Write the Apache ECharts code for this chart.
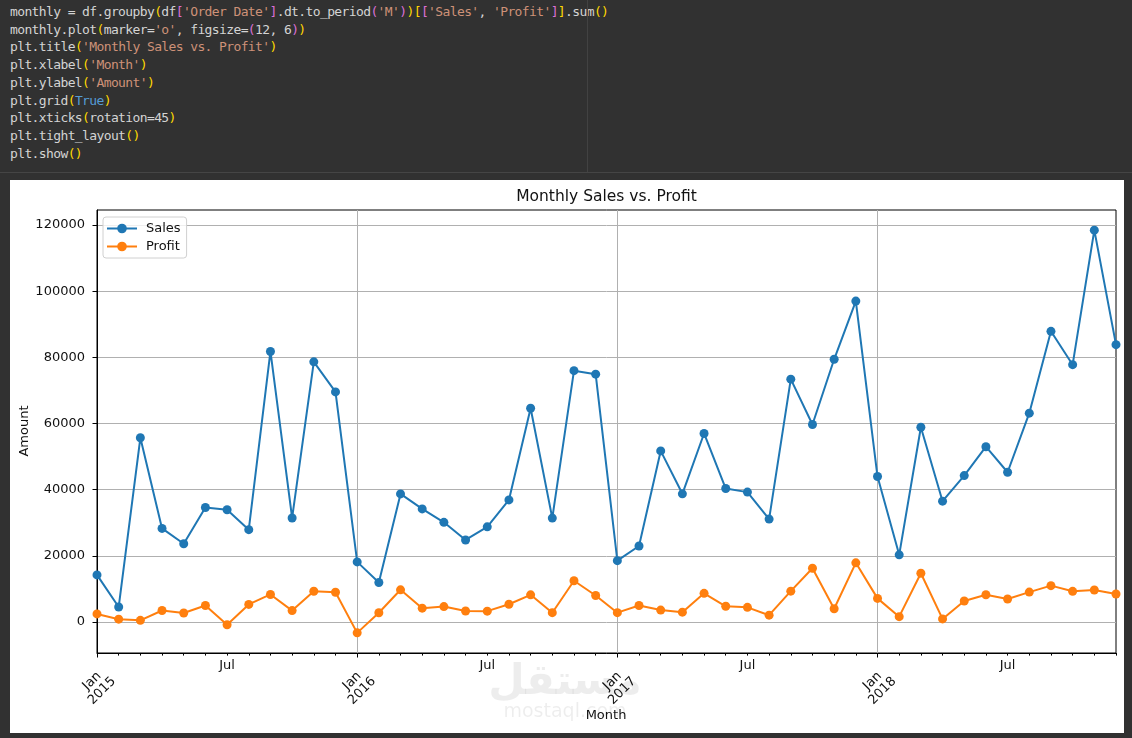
<!DOCTYPE html>
<html>
<head>
<meta charset="utf-8">
<script src="https://cdn.jsdelivr.net/npm/echarts@6/dist/echarts.min.js"></script>
<style>
  html, body { margin: 0; padding: 0; background: #313131; width: 1132px; height: 738px; overflow: hidden; }
  #code { position: absolute; left: 10px; top: 3px; margin: 0; font-family: 'DejaVu Sans Mono', 'Liberation Mono', monospace; font-size: 13px; letter-spacing: -0.62px; line-height: 17.7px; color: #d4d4d4; white-space: pre; }
  .s { color: #ce9178; } .g { color: #ffd700; } .p { color: #da70d6; } .k { color: #569cd6; }
  #sep { position: absolute; left: 0; top: 172px; width: 1132px; height: 1px; background: #454545; }
  #ruler { position: absolute; left: 587px; top: 0; width: 1px; height: 172px; background: #424242; }
  #chart { position: absolute; left: 10px; top: 180px; width: 1114px; height: 553px; background: #ffffff; }
</style>
</head>
<body>
<pre id="code">monthly = df.groupby<span class="g">(</span>df<span class="p">[</span><span class="s">'Order Date'</span><span class="p">]</span>.dt.to_period<span class="p">(</span><span class="s">'M'</span><span class="p">)</span><span class="g">)</span><span class="g">[</span><span class="p">[</span><span class="s">'Sales'</span>, <span class="s">'Profit'</span><span class="p">]</span><span class="g">]</span>.sum<span class="g">()</span>
monthly.plot<span class="g">(</span>marker=<span class="s">'o'</span>, figsize=<span class="p">(</span>12, 6<span class="p">)</span><span class="g">)</span>
plt.title<span class="g">(</span><span class="s">'Monthly Sales vs. Profit'</span><span class="g">)</span>
plt.xlabel<span class="g">(</span><span class="s">'Month'</span><span class="g">)</span>
plt.ylabel<span class="g">(</span><span class="s">'Amount'</span><span class="g">)</span>
plt.grid<span class="g">(</span><span class="k">True</span><span class="g">)</span>
plt.xticks<span class="g">(</span>rotation=45<span class="g">)</span>
plt.tight_layout<span class="g">()</span>
plt.show<span class="g">()</span></pre>
<div id="ruler"></div>
<div id="sep"></div>
<div id="chart"></div>
<script>
const years = [2015, 2016, 2017, 2018];
const monthNums = ['01','02','03','04','05','06','07','08','09','10','11','12'];
const months = [];
years.forEach(y => monthNums.forEach(m => months.push(y + '-' + m)));

const sales = [
  14237, 4520, 55691, 28295, 23648, 34595, 33946, 27910, 81777, 31453, 78629, 69546,
  18174, 11951, 38726, 34195, 30132, 24797, 28765, 36898, 64596, 31405, 75973, 74920,
  18543, 22979, 51716, 38750, 56988, 40345, 39262, 31115, 73410, 59688, 79412, 96999,
  43971, 20301, 58872, 36522, 44261, 52982, 45264, 63121, 87867, 77777, 118448, 83829
];
const profit = [
  2450, 862, 499, 3489, 2739, 4977, -841, 5318, 8328, 3448, 9292, 8984,
  -3281, 2814, 9732, 4188, 4668, 3336, 3289, 5356, 8209, 2817, 12475, 8017,
  2825, 5005, 3612, 2978, 8662, 4750, 4433, 2062, 9329, 16243, 4011, 17885,
  7140, 1614, 14752, 933, 6343, 8223, 6953, 9041, 10992, 9275, 9690, 8483
];
const yTicks = [0, 20000, 40000, 60000, 80000, 100000, 120000];
const majorLabel = 'Jan';
const minorLabel = 'Jul';

const font = "'DejaVu Sans', sans-serif";
const chart = echarts.init(document.getElementById('chart'), null, { renderer: 'canvas' });

const option = {
  animation: false,
  backgroundColor: '#ffffff',
  grid: {
    left: 87, right: 8, top: 30, bottom: 80,
    show: true, borderColor: '#000000', borderWidth: 1,
    outerBoundsMode: 'none', containLabel: false
  },
  graphic: [
    { type: 'text', x: 596.5, y: 17, z: 10,
      style: { text: 'Monthly Sales vs. Profit', font: "15.5px 'DejaVu Sans', sans-serif", fill: '#111111', align: 'center', verticalAlign: 'middle' } },
    { type: 'text', x: 596, y: 536, z: 10,
      style: { text: 'Month', font: "13px 'DejaVu Sans', sans-serif", fill: '#111111', align: 'center', verticalAlign: 'middle' } },
    { type: 'text', x: 15, y: 251, rotation: Math.PI / 2, z: 10,
      style: { text: 'Amount', font: "13px 'DejaVu Sans', sans-serif", fill: '#111111', align: 'center', verticalAlign: 'middle' } },
    { type: 'text', x: 555, y: 503, z: 0,
      style: { text: 'مستقل', font: "bold 42px 'DejaVu Sans', sans-serif", fill: 'rgba(0,0,0,0.07)', align: 'center', verticalAlign: 'middle' } },
    { type: 'text', x: 555, y: 532, z: 0,
      style: { text: 'mostaql.com', font: "19px 'DejaVu Sans', sans-serif", fill: 'rgba(0,0,0,0.07)', align: 'center', verticalAlign: 'middle' } }
  ],
  legend: {
    left: 93, top: 37, orient: 'vertical',
    padding: [5, 6, 5, 3], itemGap: 5, itemWidth: 30, itemHeight: 12,
    borderColor: '#d0d0d0', borderWidth: 1, borderRadius: 3,
    backgroundColor: 'rgba(255,255,255,0.8)',
    textStyle: { fontFamily: font, fontSize: 13, color: '#111111', padding: [0, 0, 0, 4] },
    data: ['Sales', 'Profit']
  },
  xAxis: [
    {
      type: 'category', data: months, boundaryGap: false, position: 'bottom',
      axisLine: { show: true, onZero: false, lineStyle: { color: '#000000', width: 1 } },
      axisTick: { show: true, length: 4.5, interval: (i) => i % 12 === 0, lineStyle: { color: '#000000', width: 1 } },
      axisLabel: {
        interval: (i) => i % 12 === 0, rotate: 45, margin: 33,
        align: 'center', verticalAlign: 'middle',
        fontFamily: font, fontSize: 13, color: '#111111', lineHeight: 14,
        formatter: (v) => majorLabel + '\n' + v.slice(0, 4)
      },
      splitLine: { show: true, interval: (i) => i % 12 === 0, lineStyle: { color: '#b0b0b0', width: 1 } }
    },
    {
      type: 'category', data: months, boundaryGap: false, position: 'bottom',
      axisLine: { show: false, onZero: false },
      axisTick: { show: true, length: 2.6, interval: 0, lineStyle: { color: '#000000', width: 1 } },
      axisLabel: {
        interval: (i) => i % 12 === 6, margin: 6,
        fontFamily: font, fontSize: 13, color: '#111111',
        formatter: () => minorLabel
      },
      splitLine: { show: false }
    }
  ],
  yAxis: {
    type: 'value', min: -9367, max: 124534,
    axisLine: { show: true, lineStyle: { color: '#000000', width: 1 } },
    axisTick: { show: true, length: 4.5, customValues: yTicks, lineStyle: { color: '#000000', width: 1 } },
    axisLabel: { customValues: yTicks, margin: 12, fontFamily: font, fontSize: 13, color: '#111111',
      formatter: (v) => String(v) },
    splitLine: { show: true, lineStyle: { color: '#b0b0b0', width: 1 } }
  },
  series: [
    {
      name: 'Sales', type: 'line', data: sales, xAxisIndex: 0,
      symbol: 'circle', symbolSize: 9, showSymbol: true,
      itemStyle: { color: '#1f77b4' },
      lineStyle: { color: '#1f77b4', width: 2 },
      emphasis: { disabled: true }, z: 3
    },
    {
      name: 'Profit', type: 'line', data: profit, xAxisIndex: 0,
      symbol: 'circle', symbolSize: 9, showSymbol: true,
      itemStyle: { color: '#ff7f0e' },
      lineStyle: { color: '#ff7f0e', width: 2 },
      emphasis: { disabled: true }, z: 4
    }
  ]
};
chart.setOption(option);
</script>
</body>
</html>
